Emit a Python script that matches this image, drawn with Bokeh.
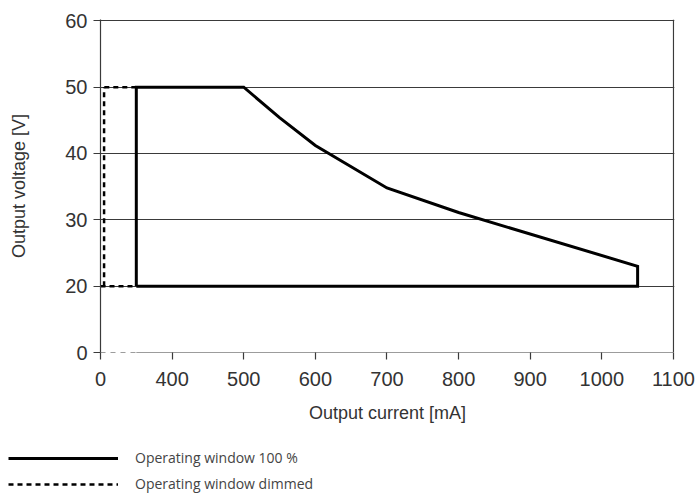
from bokeh.plotting import figure
from bokeh.models import (Range1d, FixedTicker, Legend, LegendItem, Arrow)
from bokeh.embed import file_html
from bokeh.resources import INLINE

# ---- data ----
x_ticks = [300, 400, 500, 600, 700, 800, 900, 1000, 1100]
x_labels = {300: "0"}
y_ticks = [10, 20, 30, 40, 50, 60]
y_labels = {10: "0"}

current_100 = [350, 350, 500, 550, 600, 700, 800, 1050, 1050, 350]
voltage_100 = [20, 50, 50, 45.4, 41.2, 34.8, 31.1, 23.0, 20, 20]

dimmed_current = [[350, 300], [305, 305], [300, 350]]
dimmed_voltage = [[50, 50], [20, 50], [20, 20]]

label_100 = "Operating window 100 %"
label_dim = "Operating window dimmed"

X_START, X_BREAK, X_END = 300, 350, 1100
Y_START, Y_END = 10, 60

FONT = "Liberation Sans"
GRID = "#3a3a3a"
TXT = "#333333"

p = figure(width=697, height=430, output_backend="svg", toolbar_location=None,
           x_range=Range1d(X_START, X_END + 1.5), y_range=Range1d(Y_START, Y_END + 0.2),
           min_border_left=100, min_border_right=23, min_border_top=19, min_border_bottom=78)
p.outline_line_color = None
p.background_fill_color = "white"
p.border_fill_color = "white"

# axes
p.xaxis.ticker = FixedTicker(ticks=x_ticks)
p.xaxis.major_label_overrides = x_labels
p.yaxis.ticker = FixedTicker(ticks=y_ticks)
p.yaxis.major_label_overrides = y_labels
for ax in (p.xaxis[0], p.yaxis[0]):
    ax.minor_tick_line_color = None
    ax.major_tick_in = 0
    ax.major_tick_out = 7
    ax.major_tick_line_color = GRID
    ax.major_tick_line_width = 1.2
    ax.axis_line_color = GRID
    ax.axis_line_width = 1.2
    ax.major_label_text_font = FONT
    ax.major_label_text_font_size = "20px"
    ax.major_label_text_color = TXT
    ax.axis_label_text_font = FONT
    ax.axis_label_text_font_size = "18px"
    ax.axis_label_text_font_style = "normal"
    ax.axis_label_text_color = TXT
p.xaxis.axis_line_color = None
p.xaxis.major_label_standoff = 12
p.yaxis.major_label_standoff = 6
p.xaxis.axis_label = "Output current [mA]"
p.yaxis.axis_label = "Output voltage [V]"
p.xaxis.axis_label_standoff = 14
p.yaxis.axis_label_standoff = 33

# grids
p.xgrid.ticker = FixedTicker(ticks=[X_END])
p.xgrid.grid_line_color = GRID
p.xgrid.grid_line_width = 1.2
p.ygrid.ticker = FixedTicker(ticks=y_ticks[1:])
p.ygrid.grid_line_color = GRID
p.ygrid.grid_line_width = 1.2

# x axis line with break
p.add_layout(Arrow(end=None, x_start=X_BREAK, y_start=Y_START, x_end=X_END, y_end=Y_START,
                   line_color=GRID, line_width=1.2))
p.add_layout(Arrow(end=None, x_start=X_START, y_start=Y_START, x_end=X_BREAK, y_end=Y_START,
                   line_color=GRID, line_width=1.2, line_dash="5 5"))

# data
DIM_STYLE = dict(line_color="black", line_width=2.5, line_dash="5 4")
FULL_STYLE = dict(line_color="black", line_width=3)
p.multi_line(dimmed_current, dimmed_voltage, **DIM_STYLE)
p.line(current_100, voltage_100, line_join="miter", **FULL_STYLE)

# legend panel below (its proxy lines lie outside its view)
lg = figure(width=697, height=65, output_backend="svg", toolbar_location=None,
            x_range=Range1d(0, 1), y_range=Range1d(0, 1),
            min_border_left=0, min_border_right=0, min_border_top=0, min_border_bottom=0)
lg.axis.visible = False
lg.grid.visible = False
lg.outline_line_color = None
lg_full = lg.line(current_100, voltage_100, **FULL_STYLE)
lg_dim = lg.multi_line(dimmed_current, dimmed_voltage, **DIM_STYLE)
legend = Legend(items=[LegendItem(label=label_100, renderers=[lg_full]),
                       LegendItem(label=label_dim, renderers=[lg_dim])],
                location=(8, 2), padding=0, margin=0, spacing=7,
                glyph_width=110, glyph_height=8, label_height=8, label_standoff=17,
                border_line_color=None, background_fill_alpha=0,
                label_text_font="Open Sans", label_text_font_size="14px",
                label_text_color="#444444")
lg.add_layout(legend)

open("out.html", "w").write(file_html([p, lg], INLINE))
